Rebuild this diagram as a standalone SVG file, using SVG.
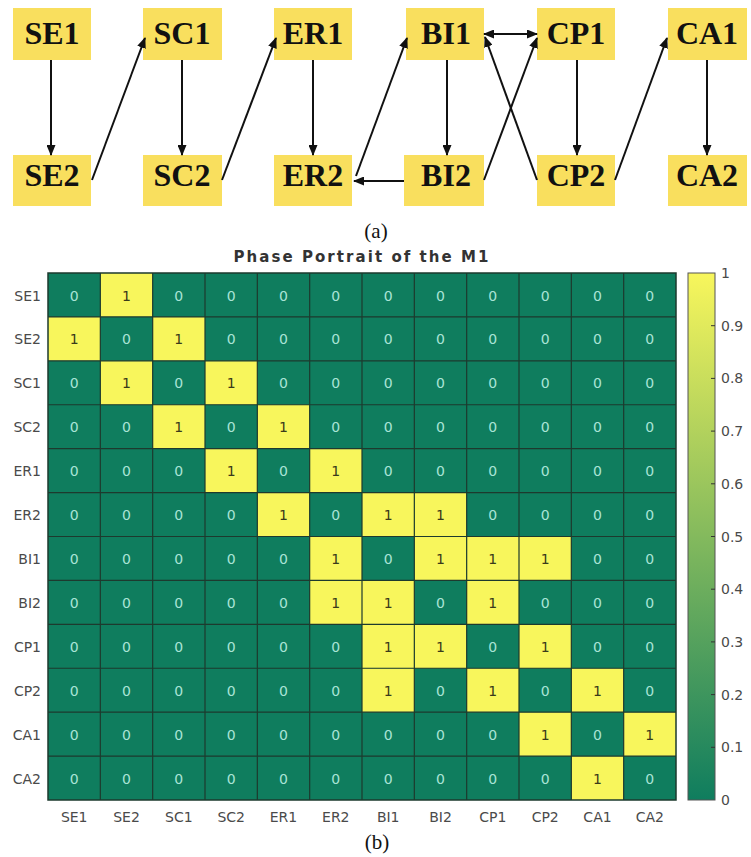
<svg xmlns="http://www.w3.org/2000/svg" width="751" height="857" viewBox="0 0 751 857">
<style>
.box{fill:#f9df5e}
.bt{font-family:"Liberation Serif","Times New Roman",serif;font-weight:bold;font-size:32px;fill:#111;text-anchor:middle}
.cn{stroke:#111;stroke-width:2;fill:none;marker-end:url(#ah)}
.cap{font-family:"Liberation Serif",serif;font-size:21px;fill:#111;text-anchor:middle}
.z{font-family:"DejaVu Sans",sans-serif;font-size:14px;fill:#a9e4d6;text-anchor:middle}
.o{font-family:"DejaVu Sans",sans-serif;font-size:14px;fill:#3a3a1a;text-anchor:middle}
.lab{font-family:"DejaVu Sans",sans-serif;font-size:14px;fill:#4a4a4a}
.y1{fill:#f8f65c}
</style>
<defs>
<marker id="ah" markerUnits="userSpaceOnUse" markerWidth="11" markerHeight="9" refX="10" refY="4.5" orient="auto-start-reverse" viewBox="0 0 11 9">
<path d="M0,0 L11,4.5 L0,9 z" fill="#111"/>
</marker>
<linearGradient id="cb" x1="0" y1="1" x2="0" y2="0">
<stop offset="0" stop-color="#0f7d5e"/>
<stop offset="1" stop-color="#f8f65c"/>
</linearGradient>
</defs>
<rect width="751" height="857" fill="#fff"/>
<g id="nodes">
<g id="SE1"><rect class="box" x="13" y="8" width="78" height="52"/><text class="bt" x="52" y="44">SE1</text></g>
<g id="SE2"><rect class="box" x="13" y="155" width="78" height="51"/><text class="bt" x="52" y="186">SE2</text></g>
<g id="SC1"><rect class="box" x="143" y="8" width="79" height="52"/><text class="bt" x="182" y="44">SC1</text></g>
<g id="SC2"><rect class="box" x="143" y="155" width="79" height="51"/><text class="bt" x="182" y="186">SC2</text></g>
<g id="ER1"><rect class="box" x="274" y="8" width="78" height="52"/><text class="bt" x="313" y="44">ER1</text></g>
<g id="ER2"><rect class="box" x="274" y="155" width="78" height="51"/><text class="bt" x="313" y="186">ER2</text></g>
<g id="BI1"><rect class="box" x="406" y="8" width="78" height="52"/><text class="bt" x="446" y="44">BI1</text></g>
<g id="BI2"><rect class="box" x="404" y="155" width="80" height="51"/><text class="bt" x="446" y="186">BI2</text></g>
<g id="CP1"><rect class="box" x="537" y="8" width="78" height="52"/><text class="bt" x="576" y="44">CP1</text></g>
<g id="CP2"><rect class="box" x="537" y="155" width="78" height="51"/><text class="bt" x="576" y="186">CP2</text></g>
<g id="CA1"><rect class="box" x="668" y="8" width="79" height="52"/><text class="bt" x="707" y="44">CA1</text></g>
<g id="CA2"><rect class="box" x="668" y="155" width="79" height="51"/><text class="bt" x="707" y="186">CA2</text></g>
</g>
<g id="connectors">
<line class="cn" x1="51" y1="60" x2="51" y2="155"/>
<line class="cn" x1="92" y1="180" x2="145" y2="38"/>
<line class="cn" x1="182" y1="60" x2="182" y2="155"/>
<line class="cn" x1="222" y1="180" x2="276" y2="38"/>
<line class="cn" x1="313" y1="60" x2="313" y2="155"/>
<line class="cn" x1="404" y1="181" x2="354" y2="181"/>
<line class="cn" x1="356" y1="176" x2="407" y2="38"/>
<line class="cn" x1="447" y1="60" x2="447" y2="155"/>
<line class="cn" x1="484" y1="34" x2="537" y2="34" style="marker-start:url(#ah)"/>
<line class="cn" x1="484" y1="180" x2="537" y2="38"/>
<line class="cn" x1="537" y1="180" x2="485" y2="37"/>
<line class="cn" x1="577" y1="60" x2="577" y2="155"/>
<line class="cn" x1="615" y1="180" x2="667" y2="38"/>
<line class="cn" x1="707" y1="60" x2="707" y2="155"/>
</g>
<text class="cap" x="376" y="238">(a)</text>
<text x="361" y="262" font-family="DejaVu Sans,sans-serif" font-weight="bold" font-size="15" fill="#333" text-anchor="middle" textLength="255">Phase Portrait of the M1</text>
<g id="heatmap" transform="translate(48,273)">
<rect x="0" y="0" width="628" height="527" fill="#0f7d5e"/>
<g class="y1">
<rect x="52.33" y="0" width="52.33" height="43.92"/>
<rect x="0" y="43.92" width="52.33" height="43.92"/>
<rect x="104.67" y="43.92" width="52.33" height="43.92"/>
<rect x="52.33" y="87.83" width="52.33" height="43.92"/>
<rect x="157" y="87.83" width="52.33" height="43.92"/>
<rect x="104.67" y="131.75" width="52.33" height="43.92"/>
<rect x="209.33" y="131.75" width="52.33" height="43.92"/>
<rect x="157" y="175.67" width="52.33" height="43.92"/>
<rect x="261.67" y="175.67" width="52.33" height="43.92"/>
<rect x="209.33" y="219.58" width="52.33" height="43.92"/>
<rect x="314" y="219.58" width="52.33" height="43.92"/>
<rect x="366.33" y="219.58" width="52.33" height="43.92"/>
<rect x="261.67" y="263.5" width="52.33" height="43.92"/>
<rect x="366.33" y="263.5" width="52.33" height="43.92"/>
<rect x="418.67" y="263.5" width="52.33" height="43.92"/>
<rect x="471" y="263.5" width="52.33" height="43.92"/>
<rect x="261.67" y="307.42" width="52.33" height="43.92"/>
<rect x="314" y="307.42" width="52.33" height="43.92"/>
<rect x="418.67" y="307.42" width="52.33" height="43.92"/>
<rect x="314" y="351.33" width="52.33" height="43.92"/>
<rect x="366.33" y="351.33" width="52.33" height="43.92"/>
<rect x="471" y="351.33" width="52.33" height="43.92"/>
<rect x="314" y="395.25" width="52.33" height="43.92"/>
<rect x="418.67" y="395.25" width="52.33" height="43.92"/>
<rect x="523.33" y="395.25" width="52.33" height="43.92"/>
<rect x="471" y="439.17" width="52.33" height="43.92"/>
<rect x="575.67" y="439.17" width="52.33" height="43.92"/>
<rect x="523.33" y="483.08" width="52.33" height="43.92"/>
</g>
<path d="M52.33,0V527M104.67,0V527M157,0V527M209.33,0V527M261.67,0V527M314,0V527M366.33,0V527M418.67,0V527M471,0V527M523.33,0V527M575.67,0V527M0,43.92H628M0,87.83H628M0,131.75H628M0,175.67H628M0,219.58H628M0,263.5H628M0,307.42H628M0,351.33H628M0,395.25H628M0,439.17H628M0,483.08H628" stroke="#1d3a2e" stroke-width="1.2" fill="none"/>
<rect x="0" y="0" width="628" height="527" fill="none" stroke="#1d3a2e" stroke-width="1.5"/>
<g transform="translate(0,27.5)">
<text class="z" x="26.17">0</text><text class="o" x="78.5">1</text><text class="z" x="130.83">0</text><text class="z" x="183.17">0</text><text class="z" x="235.5">0</text><text class="z" x="287.83">0</text><text class="z" x="340.17">0</text><text class="z" x="392.5">0</text><text class="z" x="444.83">0</text><text class="z" x="497.17">0</text><text class="z" x="549.5">0</text><text class="z" x="601.83">0</text>
</g>
<g transform="translate(0,71.4)">
<text class="o" x="26.17">1</text><text class="z" x="78.5">0</text><text class="o" x="130.83">1</text><text class="z" x="183.17">0</text><text class="z" x="235.5">0</text><text class="z" x="287.83">0</text><text class="z" x="340.17">0</text><text class="z" x="392.5">0</text><text class="z" x="444.83">0</text><text class="z" x="497.17">0</text><text class="z" x="549.5">0</text><text class="z" x="601.83">0</text>
</g>
<g transform="translate(0,115.3)">
<text class="z" x="26.17">0</text><text class="o" x="78.5">1</text><text class="z" x="130.83">0</text><text class="o" x="183.17">1</text><text class="z" x="235.5">0</text><text class="z" x="287.83">0</text><text class="z" x="340.17">0</text><text class="z" x="392.5">0</text><text class="z" x="444.83">0</text><text class="z" x="497.17">0</text><text class="z" x="549.5">0</text><text class="z" x="601.83">0</text>
</g>
<g transform="translate(0,159.2)">
<text class="z" x="26.17">0</text><text class="z" x="78.5">0</text><text class="o" x="130.83">1</text><text class="z" x="183.17">0</text><text class="o" x="235.5">1</text><text class="z" x="287.83">0</text><text class="z" x="340.17">0</text><text class="z" x="392.5">0</text><text class="z" x="444.83">0</text><text class="z" x="497.17">0</text><text class="z" x="549.5">0</text><text class="z" x="601.83">0</text>
</g>
<g transform="translate(0,203.1)">
<text class="z" x="26.17">0</text><text class="z" x="78.5">0</text><text class="z" x="130.83">0</text><text class="o" x="183.17">1</text><text class="z" x="235.5">0</text><text class="o" x="287.83">1</text><text class="z" x="340.17">0</text><text class="z" x="392.5">0</text><text class="z" x="444.83">0</text><text class="z" x="497.17">0</text><text class="z" x="549.5">0</text><text class="z" x="601.83">0</text>
</g>
<g transform="translate(0,247)">
<text class="z" x="26.17">0</text><text class="z" x="78.5">0</text><text class="z" x="130.83">0</text><text class="z" x="183.17">0</text><text class="o" x="235.5">1</text><text class="z" x="287.83">0</text><text class="o" x="340.17">1</text><text class="o" x="392.5">1</text><text class="z" x="444.83">0</text><text class="z" x="497.17">0</text><text class="z" x="549.5">0</text><text class="z" x="601.83">0</text>
</g>
<g transform="translate(0,291)">
<text class="z" x="26.17">0</text><text class="z" x="78.5">0</text><text class="z" x="130.83">0</text><text class="z" x="183.17">0</text><text class="z" x="235.5">0</text><text class="o" x="287.83">1</text><text class="z" x="340.17">0</text><text class="o" x="392.5">1</text><text class="o" x="444.83">1</text><text class="o" x="497.17">1</text><text class="z" x="549.5">0</text><text class="z" x="601.83">0</text>
</g>
<g transform="translate(0,334.9)">
<text class="z" x="26.17">0</text><text class="z" x="78.5">0</text><text class="z" x="130.83">0</text><text class="z" x="183.17">0</text><text class="z" x="235.5">0</text><text class="o" x="287.83">1</text><text class="o" x="340.17">1</text><text class="z" x="392.5">0</text><text class="o" x="444.83">1</text><text class="z" x="497.17">0</text><text class="z" x="549.5">0</text><text class="z" x="601.83">0</text>
</g>
<g transform="translate(0,378.8)">
<text class="z" x="26.17">0</text><text class="z" x="78.5">0</text><text class="z" x="130.83">0</text><text class="z" x="183.17">0</text><text class="z" x="235.5">0</text><text class="z" x="287.83">0</text><text class="o" x="340.17">1</text><text class="o" x="392.5">1</text><text class="z" x="444.83">0</text><text class="o" x="497.17">1</text><text class="z" x="549.5">0</text><text class="z" x="601.83">0</text>
</g>
<g transform="translate(0,422.7)">
<text class="z" x="26.17">0</text><text class="z" x="78.5">0</text><text class="z" x="130.83">0</text><text class="z" x="183.17">0</text><text class="z" x="235.5">0</text><text class="z" x="287.83">0</text><text class="o" x="340.17">1</text><text class="z" x="392.5">0</text><text class="o" x="444.83">1</text><text class="z" x="497.17">0</text><text class="o" x="549.5">1</text><text class="z" x="601.83">0</text>
</g>
<g transform="translate(0,466.6)">
<text class="z" x="26.17">0</text><text class="z" x="78.5">0</text><text class="z" x="130.83">0</text><text class="z" x="183.17">0</text><text class="z" x="235.5">0</text><text class="z" x="287.83">0</text><text class="z" x="340.17">0</text><text class="z" x="392.5">0</text><text class="z" x="444.83">0</text><text class="o" x="497.17">1</text><text class="z" x="549.5">0</text><text class="o" x="601.83">1</text>
</g>
<g transform="translate(0,510.5)">
<text class="z" x="26.17">0</text><text class="z" x="78.5">0</text><text class="z" x="130.83">0</text><text class="z" x="183.17">0</text><text class="z" x="235.5">0</text><text class="z" x="287.83">0</text><text class="z" x="340.17">0</text><text class="z" x="392.5">0</text><text class="z" x="444.83">0</text><text class="z" x="497.17">0</text><text class="o" x="549.5">1</text><text class="z" x="601.83">0</text>
</g>
</g>
<g id="row-labels" class="lab" text-anchor="end">
<text x="41" y="300.5">SE1</text>
<text x="41" y="344.4">SE2</text>
<text x="41" y="388.3">SC1</text>
<text x="41" y="432.2">SC2</text>
<text x="41" y="476.1">ER1</text>
<text x="41" y="520">ER2</text>
<text x="41" y="564">BI1</text>
<text x="41" y="607.9">BI2</text>
<text x="41" y="651.8">CP1</text>
<text x="41" y="695.7">CP2</text>
<text x="41" y="739.6">CA1</text>
<text x="41" y="783.5">CA2</text>
</g>
<g id="col-labels" class="lab" text-anchor="middle">
<text x="74.2" y="822">SE1</text>
<text x="126.5" y="822">SE2</text>
<text x="178.8" y="822">SC1</text>
<text x="231.2" y="822">SC2</text>
<text x="283.5" y="822">ER1</text>
<text x="335.8" y="822">ER2</text>
<text x="388.2" y="822">BI1</text>
<text x="440.5" y="822">BI2</text>
<text x="492.8" y="822">CP1</text>
<text x="545.2" y="822">CP2</text>
<text x="597.5" y="822">CA1</text>
<text x="649.8" y="822">CA2</text>
</g>
<g id="colorbar">
<rect x="688" y="273" width="27" height="527" fill="url(#cb)" stroke="#555" stroke-width="1"/>
<path d="M711,325.7H715M711,378.4H715M711,431.1H715M711,483.8H715M711,536.5H715M711,589.2H715M711,641.9H715M711,694.6H715M711,747.3H715" stroke="#333" stroke-width="1"/>
<g class="lab">
<text x="721" y="278">1</text>
<text x="721" y="330.7">0.9</text>
<text x="721" y="383.4">0.8</text>
<text x="721" y="436.1">0.7</text>
<text x="721" y="488.8">0.6</text>
<text x="721" y="541.5">0.5</text>
<text x="721" y="594.2">0.4</text>
<text x="721" y="646.9">0.3</text>
<text x="721" y="699.6">0.2</text>
<text x="721" y="752.3">0.1</text>
<text x="721" y="805">0</text>
</g>
</g>
<text class="cap" x="377" y="849" font-size="22">(b)</text>
</svg>
